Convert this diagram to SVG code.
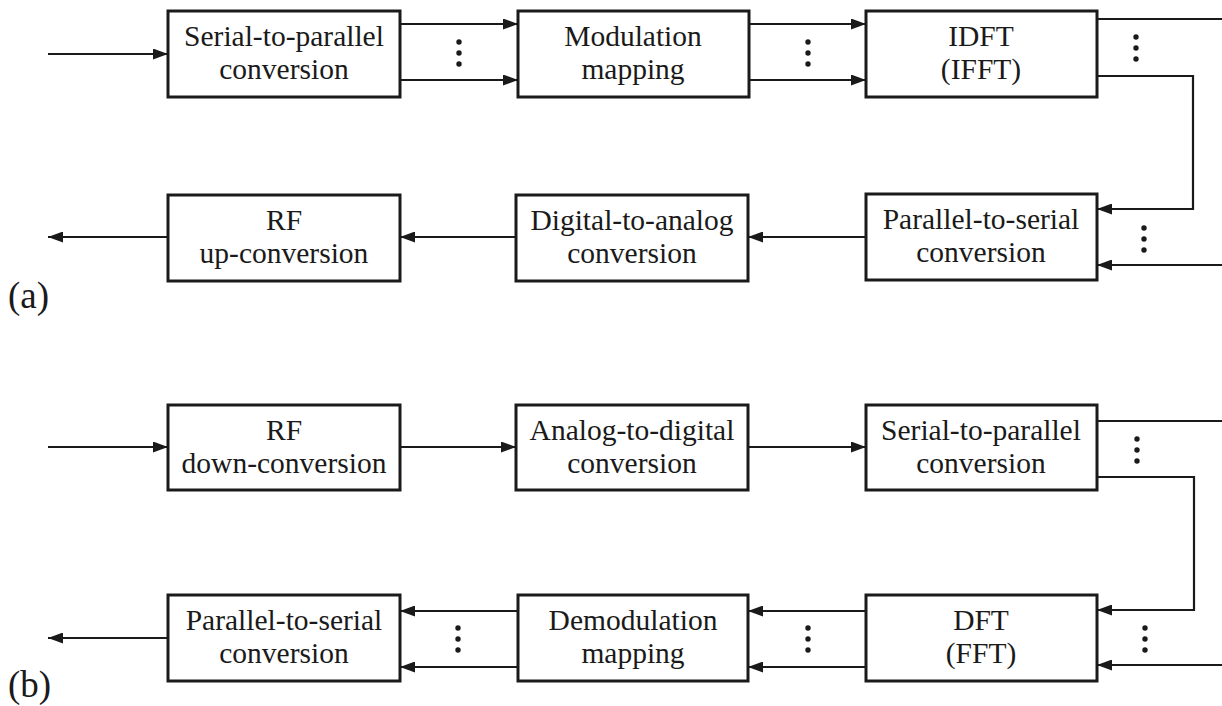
<svg xmlns="http://www.w3.org/2000/svg" width="1222" height="706" viewBox="0 0 1222 706">
  <style>
    .box { fill: #ffffff; stroke: #1a1a1a; stroke-width: 3; }
    .lbl { font-family: "Liberation Serif", "Times New Roman", serif; font-size: 29.5px; fill: #1a1a1a; text-anchor: middle; }
    .cap { font-family: "Liberation Serif", "Times New Roman", serif; font-size: 37px; fill: #1a1a1a; }
    .wire { fill: none; stroke: #1a1a1a; stroke-width: 2.2; }
    .arr { fill: none; stroke: #1a1a1a; stroke-width: 2.2; marker-end: url(#head); }
    .dot { fill: #1a1a1a; }
  </style>
  <defs>
    <marker id="head" viewBox="0 0 15 11" refX="15" refY="5.5" markerWidth="15" markerHeight="11" markerUnits="userSpaceOnUse" orient="auto">
      <path d="M0,0 L15,5.5 L0,11 Z" fill="#1a1a1a"/>
    </marker>
    <g id="vdots">
      <circle cx="0" cy="0" r="2.7"/>
      <circle cx="0" cy="11" r="2.7"/>
      <circle cx="0" cy="22" r="2.7"/>
    </g>
  </defs>

  <rect width="1222" height="706" fill="#ffffff"/>

  <!-- (a) transmitter chain -->
  <g id="tx-s2p"><rect class="box" x="168" y="11" width="232" height="86"/>
    <text class="lbl" x="284" y="46">Serial-to-parallel</text><text class="lbl" x="284" y="79">conversion</text></g>
  <g id="tx-mod"><rect class="box" x="518" y="11" width="231" height="86"/>
    <text class="lbl" x="633" y="46">Modulation</text><text class="lbl" x="633" y="79">mapping</text></g>
  <g id="tx-idft"><rect class="box" x="866" y="11" width="231" height="86"/>
    <text class="lbl" x="981" y="46">IDFT</text><text class="lbl" x="981" y="79">(IFFT)</text></g>
  <g id="tx-p2s"><rect class="box" x="866" y="194" width="231" height="86"/>
    <text class="lbl" x="981" y="229">Parallel-to-serial</text><text class="lbl" x="981" y="262">conversion</text></g>
  <g id="tx-dac"><rect class="box" x="516" y="195" width="232" height="86"/>
    <text class="lbl" x="632" y="230">Digital-to-analog</text><text class="lbl" x="632" y="263">conversion</text></g>
  <g id="tx-rf"><rect class="box" x="168" y="195" width="232" height="86"/>
    <text class="lbl" x="284" y="230">RF</text><text class="lbl" x="284" y="263">up-conversion</text></g>
  <text class="cap" x="8" y="308">(a)</text>

  <!-- (b) receiver chain -->
  <g id="rx-rf"><rect class="box" x="168" y="405" width="232" height="85"/>
    <text class="lbl" x="284" y="440">RF</text><text class="lbl" x="284" y="473">down-conversion</text></g>
  <g id="rx-adc"><rect class="box" x="516" y="405" width="232" height="85"/>
    <text class="lbl" x="632" y="440">Analog-to-digital</text><text class="lbl" x="632" y="473">conversion</text></g>
  <g id="rx-s2p"><rect class="box" x="866" y="405" width="231" height="85"/>
    <text class="lbl" x="981" y="440">Serial-to-parallel</text><text class="lbl" x="981" y="473">conversion</text></g>
  <g id="rx-dft"><rect class="box" x="866" y="595" width="231" height="86"/>
    <text class="lbl" x="981" y="630">DFT</text><text class="lbl" x="981" y="663">(FFT)</text></g>
  <g id="rx-demod"><rect class="box" x="518" y="595" width="230" height="86"/>
    <text class="lbl" x="633" y="630">Demodulation</text><text class="lbl" x="633" y="663">mapping</text></g>
  <g id="rx-p2s"><rect class="box" x="168" y="595" width="232" height="86"/>
    <text class="lbl" x="284" y="630">Parallel-to-serial</text><text class="lbl" x="284" y="663">conversion</text></g>
  <text class="cap" x="8" y="697">(b)</text>

  <g id="connectors">
    <!-- (a) -->
    <line class="arr" x1="48" y1="54" x2="168" y2="54"/>
    <line class="arr" x1="400" y1="24" x2="518" y2="24"/>
    <line class="arr" x1="400" y1="80" x2="518" y2="80"/>
    <line class="arr" x1="749" y1="24" x2="866" y2="24"/>
    <line class="arr" x1="749" y1="80" x2="866" y2="80"/>
    <line class="wire" x1="1097" y1="19" x2="1222" y2="19"/>
    <polyline class="arr" points="1097,76 1193,76 1193,209 1097,209"/>
    <line class="arr" x1="1222" y1="265" x2="1097" y2="265"/>
    <line class="arr" x1="866" y1="237" x2="748" y2="237"/>
    <line class="arr" x1="516" y1="237" x2="400" y2="237"/>
    <line class="arr" x1="168" y1="237" x2="48" y2="237"/>
    <!-- (b) -->
    <line class="arr" x1="48" y1="447" x2="168" y2="447"/>
    <line class="arr" x1="400" y1="447" x2="516" y2="447"/>
    <line class="arr" x1="748" y1="447" x2="866" y2="447"/>
    <line class="wire" x1="1097" y1="421" x2="1222" y2="421"/>
    <polyline class="arr" points="1097,477 1194,477 1194,610 1097,610"/>
    <line class="arr" x1="1222" y1="665" x2="1097" y2="665"/>
    <line class="arr" x1="866" y1="611" x2="748" y2="611"/>
    <line class="arr" x1="866" y1="667" x2="748" y2="667"/>
    <line class="arr" x1="518" y1="611" x2="400" y2="611"/>
    <line class="arr" x1="518" y1="667" x2="400" y2="667"/>
    <line class="arr" x1="168" y1="638" x2="48" y2="638"/>
  </g>

  <g id="ellipses" class="dot">
    <use href="#vdots" x="459" y="42"/>
    <use href="#vdots" x="808" y="42"/>
    <use href="#vdots" x="1136" y="37"/>
    <use href="#vdots" x="1144" y="228"/>
    <use href="#vdots" x="1137" y="439"/>
    <use href="#vdots" x="1145" y="628"/>
    <use href="#vdots" x="808" y="628"/>
    <use href="#vdots" x="458" y="628"/>
  </g>
</svg>
